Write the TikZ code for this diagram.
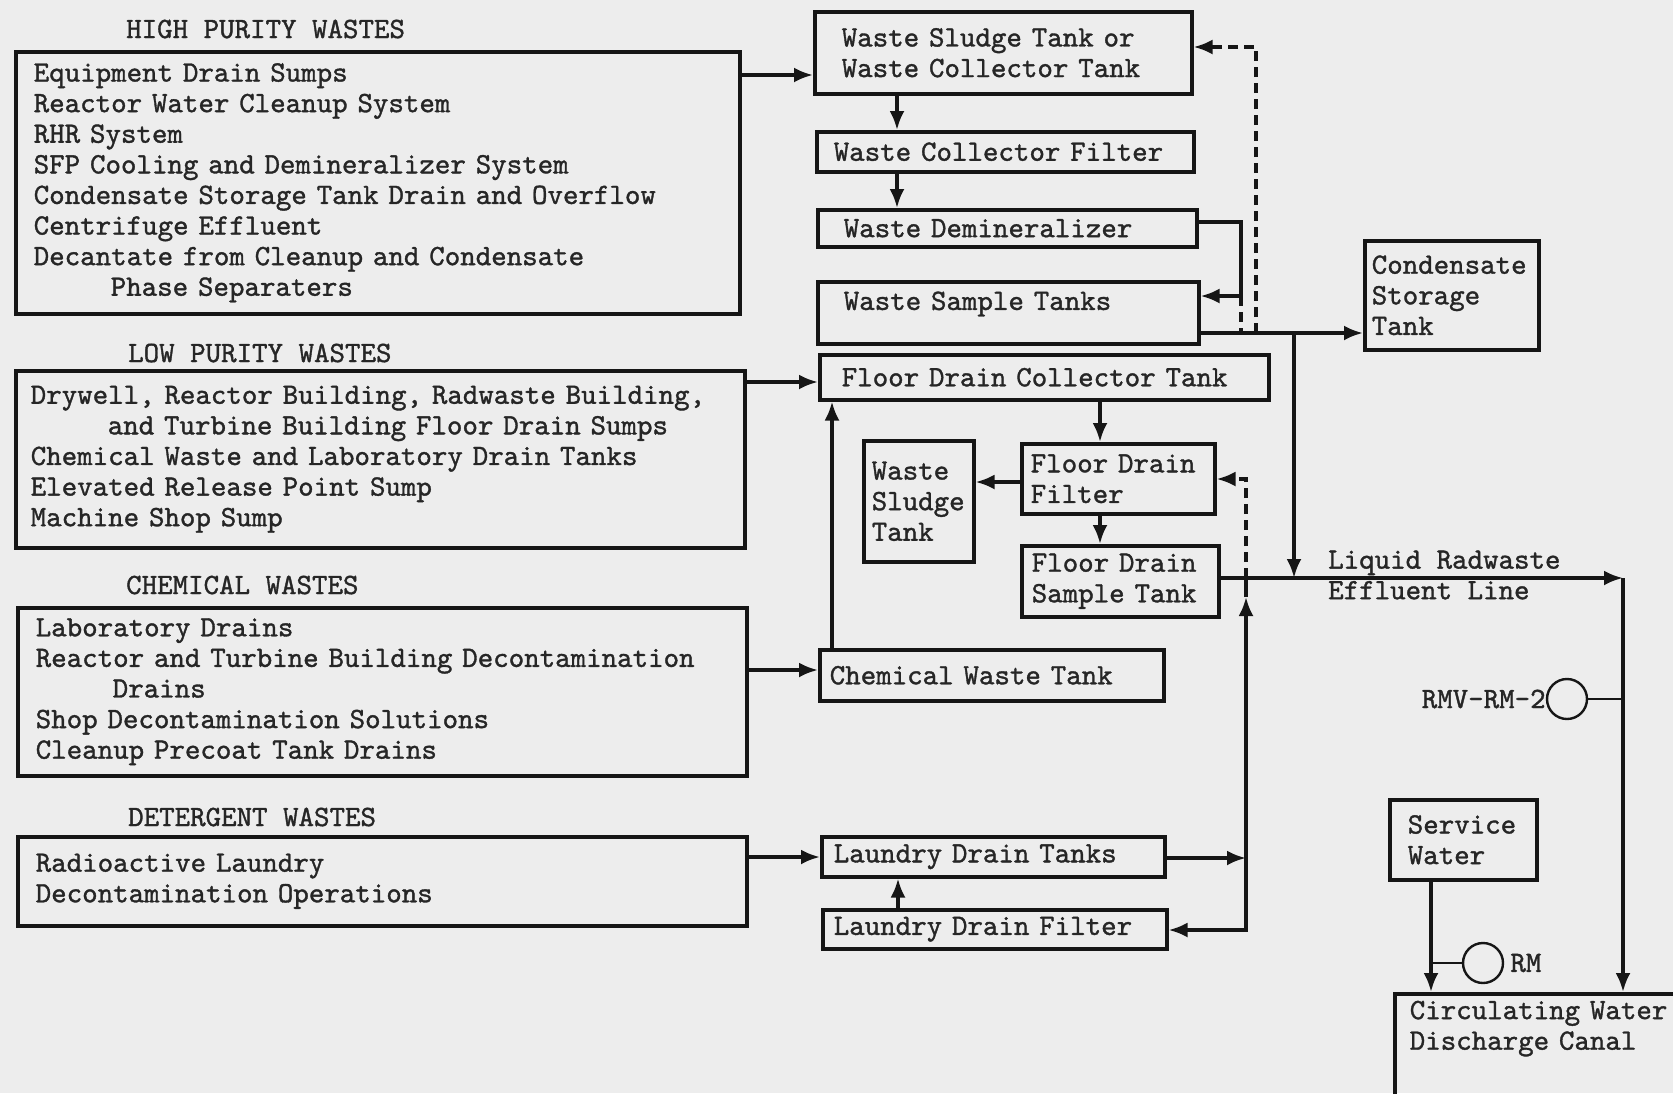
\documentclass[tikz,border=0pt]{standalone}
\usepackage{fontspec}
\setmonofont{lmmono10-regular.otf}[FakeBold=1.2]
\usepackage{tikz}
\usetikzlibrary{arrows.meta,positioning}
\usepackage{xcolor}
\definecolor{paper}{HTML}{EDEDED}
\definecolor{ink}{HTML}{262626}
\definecolor{pipe}{HTML}{161616}

\begin{document}
\begin{tikzpicture}[x=1pt, y=-1pt,
  every node/.style={font=\ttfamily\fontsize{29.5}{30.6}\selectfont, text=ink},
  tank/.style={draw=pipe, line width=3.5pt, rectangle, anchor=north west, align=left, inner ysep=3pt},
  heading/.style={anchor=west, inner sep=0pt},
  meter/.style={draw=pipe, circle, line width=2.4pt, minimum size=40pt, inner sep=0pt},
  flow/.style={draw=pipe, line width=3.5pt, -{Latex[length=19pt,width=15pt]}},
  retline/.style={line width=3.5pt, dash pattern=on 10pt off 6pt},
  pipeline/.style={draw=pipe, line width=3.5pt}]
  \fill[paper] (0,0) rectangle (1673,1093);
  \useasboundingbox (0,0) rectangle (1673,1093);

  % waste sources
  \node[heading] (hphead) at (126,29) {HIGH PURITY WASTES};
  \node[tank, minimum width=724pt, minimum height=262pt, inner xsep=18pt, text width=688pt] (hp) at (14,50)
    {Equipment Drain Sumps\\Reactor Water Cleanup System\\RHR System\\SFP Cooling and Demineralizer System\\Condensate Storage Tank Drain and Overflow\\Centrifuge Effluent\\Decantate from Cleanup and Condensate\\\hspace*{77pt}Phase Separaters};
  \node[heading] (lphead) at (128,353) {LOW PURITY WASTES};
  \node[tank, minimum width=729pt, minimum height=177pt, inner xsep=15pt, text width=699pt] (lp) at (14,369)
    {Drywell, Reactor Building, Radwaste Building,\\\hspace*{77pt}and Turbine Building Floor Drain Sumps\\Chemical Waste and Laboratory Drain Tanks\\Elevated Release Point Sump\\Machine Shop Sump};
  \node[heading] (chhead) at (126,585) {CHEMICAL WASTES};
  \node[tank, minimum width=729pt, minimum height=168pt, inner xsep=18pt, text width=693pt] (chem) at (16,606)
    {Laboratory Drains\\Reactor and Turbine Building Decontamination\\\hspace*{77pt}Drains\\Shop Decontamination Solutions\\Cleanup Precoat Tank Drains};
  \node[heading] (dthead) at (128,817) {DETERGENT WASTES};
  \node[tank, minimum width=729pt, minimum height=89pt, inner xsep=18pt, text width=693pt] (det) at (16,835)
    {Radioactive Laundry\\Decontamination Operations};

  % processing
  \node[tank, minimum width=377pt, minimum height=82pt, inner xsep=27pt, text width=323pt] (wst) at (813,10) {Waste Sludge Tank or\\Waste Collector Tank};
  \node[tank, minimum width=377pt, minimum height=40pt, inner xsep=17pt, text width=343pt] (wcf) at (815,130) {Waste Collector Filter};
  \node[tank, minimum width=379pt, minimum height=37pt, inner xsep=26pt, text width=327pt] (wdm) at (816,208) {Waste Demineralizer};
  \node[tank, minimum width=381pt, minimum height=62pt, inner xsep=26pt, inner ysep=9pt, text width=329pt, text depth=24pt] (wsmp) at (816,280) {Waste Sample Tanks};
  \node[tank, minimum width=174pt, minimum height=109pt, inner xsep=7pt, text width=160pt] (cst) at (1363,239) {Condensate\\Storage\\Tank};
  \node[tank, minimum width=449pt, minimum height=45pt, inner xsep=22pt, text width=405pt] (fdct) at (818,353) {Floor Drain Collector Tank};
  \node[tank, minimum width=110pt, minimum height=121pt, inner xsep=8pt, text width=94pt] (wstk) at (862,439) {Waste\\Sludge\\Tank};
  \node[tank, minimum width=193pt, minimum height=70pt, inner xsep=9pt, text width=175pt] (fdf) at (1020,442) {Floor Drain\\Filter};
  \node[tank, minimum width=197pt, minimum height=71pt, inner xsep=10pt, text width=177pt] (fdst) at (1020,544) {Floor Drain\\Sample Tank};
  \node[tank, minimum width=344pt, minimum height=51pt, inner xsep=10pt, text width=324pt] (cwt) at (818,648) {Chemical Waste Tank};
  \node[tank, minimum width=343pt, minimum height=40pt, inner xsep=12pt, text width=319pt] (ldt) at (820,835) {Laundry Drain Tanks};
  \node[tank, minimum width=344pt, minimum height=39pt, inner xsep=11pt, text width=322pt] (ldf) at (821,908) {Laundry Drain Filter};

  % discharge
  \node[heading, align=left] (lrel) at (1328,575) {Liquid Radwaste\\Effluent Line};
  \node[meter] (rmv) at (1567,699) {};
  \node[anchor=east, inner sep=0pt] (rmvlbl) at (rmv.west) {RMV-RM-2};
  \node[tank, minimum width=147pt, minimum height=80pt, inner xsep=18pt, text width=111pt] (sw) at (1388,798) {Service\\Water};
  \node[meter] (rm) at (1483,963) {};
  \node[anchor=west, inner sep=0pt] (rmlbl) at ([xshift=6pt]rm.east) {RM};
  \node[tank, minimum width=320pt, inner xsep=15pt, inner ysep=7pt, text width=290pt, text depth=120pt] (cwdc) at (1393,992) {Circulating Water\\Discharge Canal};

  \coordinate (jdm) at (1241,296);
  \coordinate (jov) at (1256,333);
  \coordinate (jcs) at (1294,333);
  \coordinate (jle) at (1294,578);
  \coordinate (cor) at (1623,578);
  \coordinate (jfe) at (1246,578);
  \coordinate (jup) at (1246,597);
  \coordinate (jld) at (1246,858);
  \coordinate (jlb) at (1246,930);

  % high purity path
  \draw[flow] (hp.east |- 0,75) -- (wst.west |- 0,75);
  \draw[flow] (wst.south -| 897,0) -- (wcf.north -| 897,0);
  \draw[flow] (wcf.south -| 897,0) -- (wdm.north -| 897,0);
  \draw[flow] (wdm.east |- 0,222) -| (jdm) -- (wsmp.east |- jdm);
  \draw[pipeline, retline] (jdm) -- (jdm |- jcs);
  \draw[flow, retline] (jov) |- (wst.east |- 0,47);
  \draw[flow] (wsmp.east |- jcs) -- (cst.west |- jcs);
  \draw[flow] (jcs) -- (jle);

  % low purity, chemical and detergent paths
  \draw[flow] (lp.east |- 0,382) -- (fdct.west |- 0,382);
  \draw[flow] (fdct.south -| 1100,0) -- (fdf.north -| 1100,0);
  \draw[flow] (fdf.west |- 0,482) -- (wstk.east |- 0,482);
  \draw[flow] (fdf.south -| 1100,0) -- (fdst.north -| 1100,0);
  \draw[flow] (chem.east |- 0,670) -- (cwt.west |- 0,670);
  \draw[flow] (cwt.north -| 832,0) -- (fdct.south -| 832,0);
  \draw[flow] (det.east |- 0,857) -- (ldt.west |- 0,857);
  \draw[flow] (ldf.north -| 898,0) -- (ldt.south -| 898,0);
  \draw[flow] (ldt.east |- jld) -- (jld);
  \draw[flow] (jld) -- (jlb) -- (ldf.east |- jlb);
  \draw[flow] (jld) -- (jup);
  \draw[pipeline] (jup) -- (jfe);
  \draw[flow, retline] (jfe) |- (fdf.east |- 0,479);

  % effluent line
  \draw[flow] (fdst.east |- cor) -- (cor);
  \draw[flow] (cor) -- (cwdc.north -| cor);
  \draw[pipeline, line width=2.4pt] (rmv.east) -- (cor |- rmv.east);
  \draw[flow] (sw.south -| 1431,0) -- (cwdc.north -| 1431,0);
  \draw[pipeline, line width=2.4pt] (1431,0 |- rm.west) -- (rm.west);
\end{tikzpicture}
\end{document}
